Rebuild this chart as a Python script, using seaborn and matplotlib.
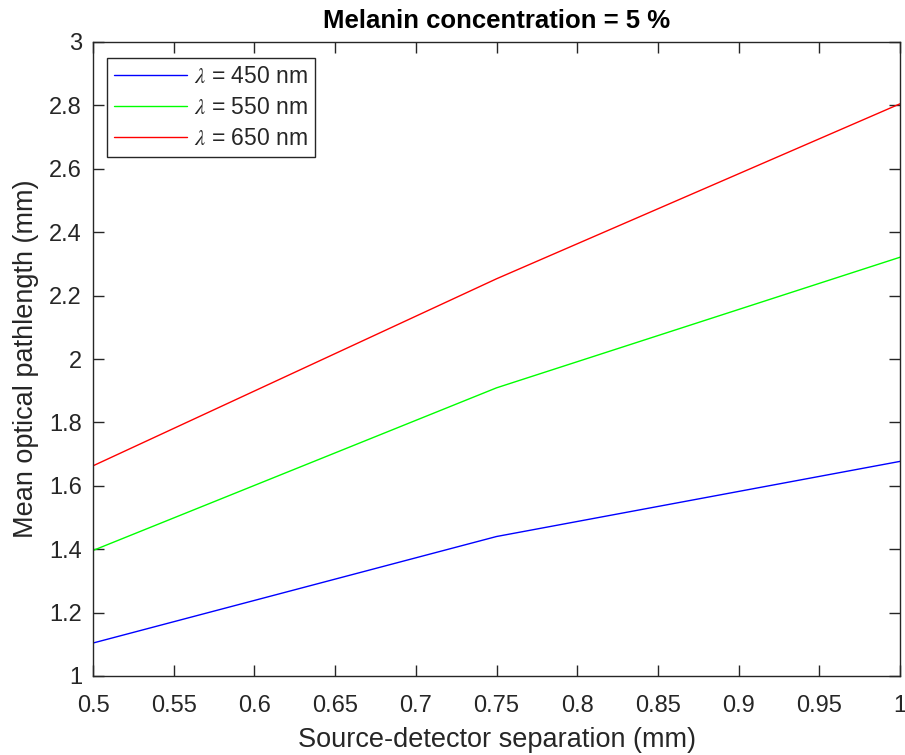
import matplotlib
matplotlib.use("Agg")
import matplotlib.pyplot as plt
import seaborn as sns
import pandas as pd
import numpy as np

separation = [0.5, 0.75, 1.0]
mopl_450 = [1.104, 1.440, 1.677]
mopl_550 = [1.396, 1.909, 2.321]
mopl_650 = [1.663, 2.253, 2.805]
series_labels = [r"$\lambda$ = 450 nm", r"$\lambda$ = 550 nm", r"$\lambda$ = 650 nm"]
colors = ["#0000ff", "#00ff00", "#ff0000"]
xticks = [0.5, 0.55, 0.6, 0.65, 0.7, 0.75, 0.8, 0.85, 0.9, 0.95, 1.0]
xtick_labels = ["0.5", "0.55", "0.6", "0.65", "0.7", "0.75", "0.8", "0.85", "0.9", "0.95", "1"]
yticks = [1, 1.2, 1.4, 1.6, 1.8, 2, 2.2, 2.4, 2.6, 2.8, 3]
ytick_labels = ["1", "1.2", "1.4", "1.6", "1.8", "2", "2.2", "2.4", "2.6", "2.8", "3"]

df = pd.DataFrame({
    "x": separation * 3,
    "y": mopl_450 + mopl_550 + mopl_650,
    "series": [series_labels[0]] * 3 + [series_labels[1]] * 3 + [series_labels[2]] * 3,
})

sns.set_theme(style="white")
plt.rcParams["font.family"] = ["Liberation Sans", "DejaVu Sans"]
plt.rcParams["mathtext.fontset"] = "stix"

fig = plt.figure(figsize=(9.05, 7.55), dpi=100)
ax = fig.add_axes([93 / 905, 1 - 676 / 755, 807 / 905, 634 / 755])

sns.lineplot(data=df, x="x", y="y", hue="series", palette=colors,
             hue_order=series_labels, linewidth=1.0, ax=ax, legend=False)

ax.set_xlim(0.5, 1.0)
ax.set_ylim(1, 3)
ax.set_xticks(xticks)
ax.set_xticklabels(xtick_labels)
ax.set_yticks(yticks)
ax.set_yticklabels(ytick_labels)

axcol = "#262626"
for s in ax.spines.values():
    s.set_color(axcol)
    s.set_linewidth(1.0)
ax.tick_params(direction="in", length=8, width=1.0, color=axcol,
               labelsize=17, labelcolor=axcol, top=True, right=True,
               bottom=True, left=True)
ax.tick_params(axis="x", pad=14)
ax.tick_params(axis="y", pad=8)

ax.set_xlabel("Source-detector separation (mm)", fontsize=19.5, color=axcol, labelpad=7)
ax.set_ylabel("Mean optical pathlength (mm)", fontsize=19.5, color=axcol, labelpad=7)
ax.set_title("Melanin concentration = 5 %", fontsize=18.5, fontweight="bold", color="black", pad=10)

handles = [plt.Line2D([0], [0], color=c, lw=1.0) for c in colors]
leg = ax.legend(handles, series_labels, loc="upper left", bbox_to_anchor=(0.0175, 0.975),
                fontsize=16.5, frameon=True, fancybox=False, handlelength=3.2,
                handletextpad=0.3, borderpad=0.3, labelspacing=0.36, borderaxespad=0)
leg.get_frame().set_edgecolor(axcol)
leg.get_frame().set_linewidth(1.0)
leg.get_frame().set_alpha(1)

fig.savefig("out.png", dpi=100)
